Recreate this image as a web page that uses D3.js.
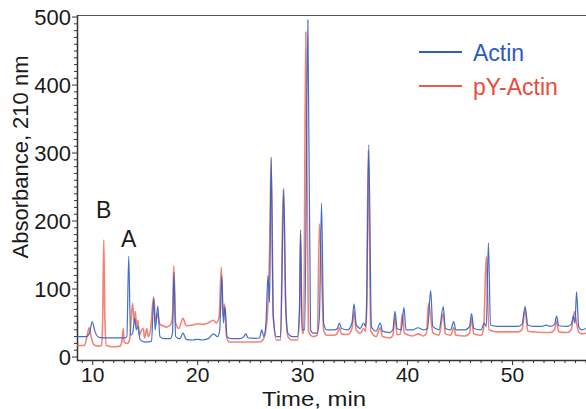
<!DOCTYPE html>
<html>
<head>
<meta charset="utf-8">
<script src="https://cdn.jsdelivr.net/npm/d3@7"></script>
<style>
  html, body { margin: 0; padding: 0; background: #fff; }
  svg { display: block; font-family: "Liberation Sans", Arial, Helvetica, sans-serif; }
</style>
</head>
<body>
<svg id="chart" width="586" height="409"></svg>
<script>
// ---- data ----
const seriesNames = ["Actin", "pY-Actin"];
const xTicks = [10, 20, 30, 40, 50];
const yTicks = [0, 100, 200, 300, 400, 500];

const actinTime = [8.5, 9.4, 9.7, 9.95, 10.2, 10.6, 11.5, 12.5, 13.0, 13.25, 13.43, 13.6, 13.8, 14.0, 14.15, 14.3, 14.5, 15.0, 15.6, 15.81, 15.95, 16.2, 16.4, 16.8, 17.4, 17.6, 17.74, 17.9, 18.3, 18.6, 18.9, 19.5, 20.0, 20.4, 21.0, 21.5, 21.9, 22.1, 22.3, 22.45, 22.6, 22.8, 23.2, 24.0, 24.4, 24.6, 24.8, 25.5, 25.9, 26.1, 26.3, 26.5, 26.7, 26.85, 27.0, 27.2, 27.5, 27.9, 28.2, 28.4, 28.6, 29.0, 29.5, 29.7, 29.8, 29.95, 30.2, 30.5, 30.75, 31.0, 31.4, 31.6, 31.8, 32.0, 32.3, 33.0, 33.3, 33.5, 33.7, 34.3, 34.7, 34.9, 35.1, 35.5, 35.8, 36.0, 36.1, 36.3, 36.55, 37.0, 37.4, 37.6, 38.3, 38.6, 38.8, 39.0, 39.4, 39.65, 39.85, 40.5, 41.0, 41.5, 41.9, 42.2, 42.4, 43.0, 43.4, 43.6, 44.1, 44.4, 44.6, 45.5, 45.9, 46.1, 46.3, 47.0, 47.3, 47.5, 47.7, 47.9, 48.5, 49.5, 50.5, 50.9, 51.2, 51.45, 52.0, 52.8, 53.2, 53.6, 54.0, 54.2, 54.4, 55.2, 55.6, 55.8, 55.95, 56.1, 56.3, 56.6, 57.0];
const actinValue = [30, 30, 36, 52, 38, 29, 28, 28, 28, 30, 148, 32, 35, 57, 40, 45, 26, 22, 23, 86, 40, 75, 30, 27, 27, 35, 125, 30, 27, 35, 26, 25, 26, 25, 27, 34, 30, 40, 120, 50, 74, 30, 27, 27, 30, 34, 28, 27.5, 28, 40, 30, 50, 120, 80, 294, 60, 30, 30, 248, 69, 35, 30, 30, 70, 187, 40, 40, 496, 40, 35, 35, 60, 226, 50, 40, 40, 42, 50, 42, 40, 50, 78, 48, 42, 50, 45, 80, 312, 45, 38, 50, 38, 36, 40, 67, 42, 40, 73, 40, 40, 43, 40, 42, 97.5, 45, 40, 74, 42, 40, 52, 40, 40, 45, 64, 42, 40, 50, 45, 168, 47, 45, 45, 45, 48, 74, 47, 45, 45, 47, 45, 48, 60, 46, 45, 48, 60, 50, 96, 45, 40, 42];

const pyTime = [8.5, 9.2, 9.45, 9.65, 9.85, 10.1, 10.5, 10.85, 10.95, 11.05, 11.15, 11.3, 12.0, 12.6, 12.8, 12.9, 13.0, 13.3, 13.5, 13.8, 13.95, 14.05, 14.2, 14.3, 14.45, 14.6, 14.8, 14.95, 15.15, 15.3, 15.5, 15.81, 16.0, 16.15, 16.4, 16.7, 17.0, 17.4, 17.6, 17.72, 17.9, 18.2, 18.6, 18.9, 19.5, 20.0, 20.5, 21.0, 21.5, 21.8, 22.05, 22.25, 22.4, 22.55, 22.75, 23.0, 24.0, 25.0, 25.9, 26.2, 26.5, 26.7, 26.85, 27.0, 27.2, 27.5, 27.9, 28.15, 28.4, 28.6, 29.0, 29.5, 29.7, 29.8, 29.95, 30.1, 30.3, 30.55, 31.0, 31.4, 31.6, 31.85, 32.0, 32.3, 33.0, 33.3, 33.5, 33.7, 34.3, 34.7, 34.9, 35.1, 35.5, 35.8, 36.0, 36.1, 36.25, 36.5, 37.0, 37.4, 37.6, 38.3, 38.6, 38.8, 39.0, 39.3, 39.5, 39.7, 40.5, 41.0, 41.5, 41.8, 42.0, 42.2, 42.4, 43.0, 43.4, 43.6, 44.1, 44.4, 44.6, 45.5, 45.9, 46.1, 46.3, 47.0, 47.25, 47.5, 47.75, 48.5, 49.5, 50.5, 50.9, 51.2, 51.45, 52.0, 52.8, 53.6, 54.0, 54.2, 54.4, 55.2, 55.6, 55.9, 56.1, 56.3, 56.6, 57.0];
const pyValue = [17, 17, 30, 43, 30, 18, 16, 17, 60, 172, 60, 17, 15, 16, 25, 42, 22, 20, 25, 79, 50, 67, 45, 54, 32, 38, 42, 28, 42, 30, 40, 89, 50, 64, 48, 46, 44, 47, 60, 134, 50, 42, 57, 46, 47, 49, 48, 50, 54, 50, 60, 132, 60, 78, 30, 22, 22, 22, 22, 25, 40, 79, 157, 290, 60, 25, 25, 246, 69, 30, 25, 25, 60, 182, 35, 35, 478, 38, 30, 32, 196, 100, 40, 32, 32, 35, 43, 34, 33, 42, 67, 40, 35, 42, 38, 70, 304, 38, 30, 43, 30, 28, 32, 59, 33, 33, 64, 35, 31, 34, 31, 35, 79, 60, 36, 32, 64, 34, 32, 43, 32, 31, 35, 57, 34, 32, 43, 148, 40, 37, 37, 37, 40, 70, 38, 37, 36, 36, 40, 53, 37, 36, 40, 67, 50, 37, 34, 35];

const peakLabels = ["B", "A"];
const peakLabelTime = [11.05, 13.43];
const peakLabelValue = [205, 162];

// ---- drawing ----
const svg = d3.select("#chart");
const mLeft = 77, mRight = 586, mTop = 15, mBottom = 360;

const x = d3.scaleLinear().domain([8.5, 57]).range([mLeft, mRight]);
const y = d3.scaleLinear().domain([-4.4, 503]).range([mBottom, mTop]);

const blue = "#2f5ec4";
const red = "#f05a48";
const axisColor = "#333";

// top frame line
svg.append("line").attr("x1", mLeft).attr("x2", mRight).attr("y1", mTop + 0.5).attr("y2", mTop + 0.5)
  .attr("stroke", "#555").attr("stroke-width", 1.2);

// y axis ticks
const yMinor = d3.range(0, 501, 10);
svg.append("g").selectAll("line").data(yMinor).join("line")
  .attr("x1", mLeft).attr("x2", d => d % 100 === 0 ? mLeft - 5 : mLeft - 3)
  .attr("y1", d => y(d)).attr("y2", d => y(d))
  .attr("stroke", axisColor).attr("stroke-width", 1);

// x axis ticks
const xMinor = d3.range(9, 57.01, 1);
svg.append("g").selectAll("line").data(xMinor).join("line")
  .attr("x1", d => x(d)).attr("x2", d => x(d))
  .attr("y1", mBottom).attr("y2", d => d % 10 === 0 ? mBottom + 5 : mBottom + 3)
  .attr("stroke", axisColor).attr("stroke-width", 1);

// axis lines
svg.append("line").attr("x1", mLeft + 0.5).attr("x2", mLeft + 0.5).attr("y1", mTop).attr("y2", mBottom + 1)
  .attr("stroke", axisColor).attr("stroke-width", 1.5);
svg.append("line").attr("x1", mLeft).attr("x2", mRight).attr("y1", mBottom + 0.5).attr("y2", mBottom + 0.5)
  .attr("stroke", axisColor).attr("stroke-width", 1.5);

// tick labels
svg.append("g").selectAll("text").data(yTicks).join("text")
  .attr("x", 71).attr("y", d => y(d)).attr("dy", "0.36em")
  .attr("text-anchor", "end").attr("font-size", 22).attr("fill", "#1a1a1a")
  .text(d => d);
svg.append("g").selectAll("text").data(xTicks).join("text")
  .attr("x", d => x(d)).attr("y", 382)
  .attr("text-anchor", "middle").attr("font-size", 21).attr("fill", "#1a1a1a")
  .text(d => d);

// axis titles
svg.append("text").attr("transform", "translate(28,157) rotate(-90)")
  .attr("text-anchor", "middle").attr("font-size", 22).attr("fill", "#1a1a1a")
  .text("Absorbance, 210 nm");
svg.append("text").attr("x", 314).attr("y", 405.5)
  .attr("text-anchor", "middle").attr("font-size", 21).attr("fill", "#1a1a1a")
  .attr("textLength", 104).attr("lengthAdjust", "spacingAndGlyphs")
  .text("Time, min");

// series
const line = d3.line().x(d => x(d[0])).y(d => y(d[1])).curve(d3.curveMonotoneX);
const pyData = d3.zip(pyTime, pyValue);
const actinData = d3.zip(actinTime, actinValue);

const plot = svg.append("g");
plot.append("path").datum(pyData).attr("d", line)
  .attr("fill", "none").attr("stroke", red).attr("stroke-width", 1.6).attr("stroke-opacity", 0.75)
  .attr("stroke-linejoin", "round");
plot.append("path").datum(actinData).attr("d", line)
  .attr("fill", "none").attr("stroke", blue).attr("stroke-width", 1.2).attr("stroke-opacity", 0.9)
  .attr("stroke-linejoin", "round");

// peak labels
svg.append("g").selectAll("text").data(peakLabels).join("text")
  .attr("x", (d, i) => x(peakLabelTime[i]))
  .attr("y", (d, i) => y(peakLabelValue[i]))
  .attr("text-anchor", "middle").attr("font-size", 23).attr("fill", "#1a1a1a")
  .text(d => d);

// legend
const legend = svg.append("g");
const legendColors = [blue, red];
const legendTextColors = ["#2c5bbf", "#ee4a3a"];
seriesNames.forEach((name, i) => {
  const ly = 52 + i * 34;
  legend.append("line").attr("x1", 419).attr("x2", 462).attr("y1", ly).attr("y2", ly)
    .attr("stroke", legendColors[i]).attr("stroke-width", 2);
  legend.append("text").attr("x", 473).attr("y", ly + 8.5)
    .attr("font-size", 23).attr("fill", legendTextColors[i]).text(name);
});
</script>
</body>
</html>
